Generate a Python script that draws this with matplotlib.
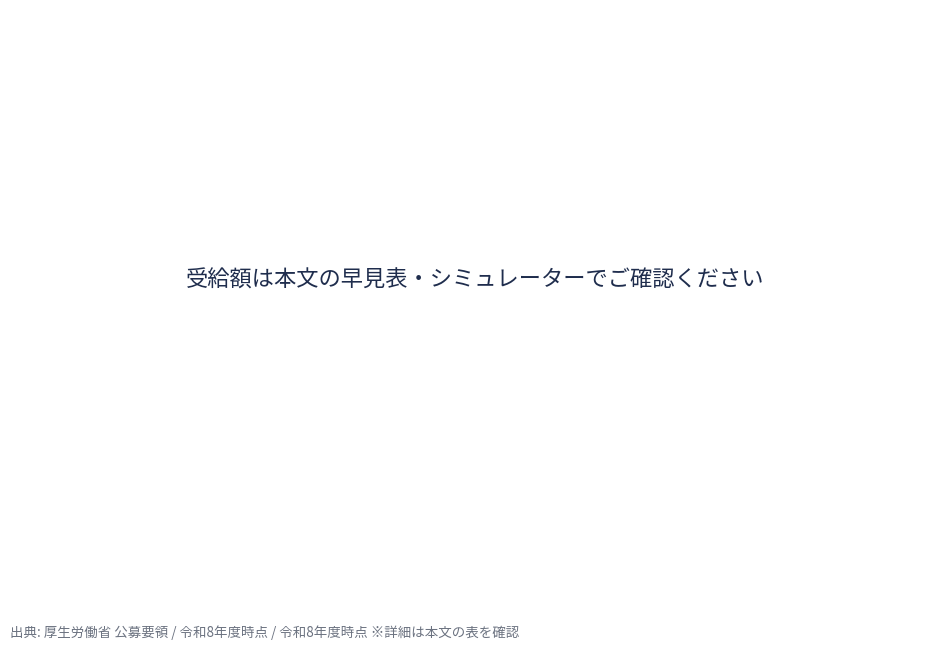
import matplotlib
matplotlib.use("Agg")
import matplotlib.pyplot as plt

plt.rcParams['font.family'] = ['Noto Sans CJK JP', 'DejaVu Sans']

message = "受給額は本文の早見表・シミュレーターでご確認ください"
source_note = "出典: 厚生労働省 公募要領 / 令和8年度時点 / 令和8年度時点 ※詳細は本文の表を確認"

fig = plt.figure(figsize=(9.5, 6.48), dpi=100)
fig.patch.set_facecolor("white")

fig.text(0.5, 1 - 280 / 648, message, ha="center", va="center",
         fontsize=16.0, color="#1f2d4d")
fig.text(10 / 950, 1 - 633 / 648, source_note, ha="left", va="center",
         fontsize=9.7, color="#6b7280")

fig.savefig("out.png", dpi=100, facecolor="white")
